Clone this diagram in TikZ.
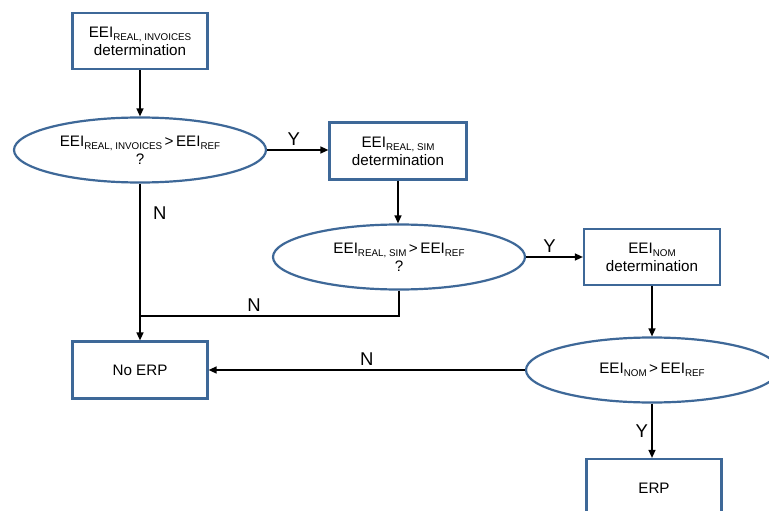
\documentclass[tikz,border=0pt]{standalone}
\usepackage{fontspec}
\setmainfont{Liberation Sans}
\usetikzlibrary{shapes.geometric,arrows.meta}
\definecolor{bord}{RGB}{62,104,152}
\newcommand{\lowtxt}[1]{\raisebox{-3.5pt}{\fontsize{9.8}{10}\selectfont #1}}
\begin{document}
\begin{tikzpicture}[x=1pt,y=-1pt,
 box/.style={draw=bord,line width=2.2pt,fill=white,minimum width=135pt,minimum height=56pt,inner sep=0pt,align=center,font=\fontsize{15.2}{18}\selectfont},
 dec/.style={ellipse,draw=bord,line width=2.2pt,fill=white,minimum width=252pt,minimum height=65pt,inner sep=0pt,align=center,font=\fontsize{15.2}{18}\selectfont},
 conn/.style={draw=black,line width=1.4pt},
 arr/.style={conn,-{Triangle[length=8pt,width=7pt]}},
 lbl/.style={font=\fontsize{18.5}{22}\selectfont}]
\useasboundingbox (0,0) rectangle (769,511);
\clip (0,0) rectangle (769,511);
\fill[white] (0,0) rectangle (769,511);
\node[box] (b1) at (140,41) {EEI\lowtxt{REAL, INVOICES}\\determination};
\node[dec] (e1) at (140,150) {EEI\lowtxt{REAL, INVOICES}\,>\,EEI\lowtxt{REF}\\?};
\node[box,minimum width=137pt,minimum height=57pt] (b2) at (398,151) {EEI\lowtxt{REAL, SIM}\\determination};
\node[dec] (e2) at (399,257) {EEI\lowtxt{REAL, SIM}\,>\,EEI\lowtxt{REF}\\?};
\node[box,minimum width=136pt] (b3) at (652,257) {EEI\lowtxt{NOM}\\determination};
\node[dec] (e3) at (652,370) {EEI\lowtxt{NOM}\,>\,EEI\lowtxt{REF}};
\node[box,minimum height=57pt] (noerp) at (140,370) {No ERP};
\node[box,minimum height=58pt] (erp) at (654,488) {ERP};
\draw[arr] (b1) -- (e1);
\draw[arr] (e1.east) -- node[lbl,above,xshift=-4pt]{Y} (e1.east -| b2.west);
\draw[arr] (b2.south) -- (b2.south |- e2.north);
\draw[arr] (e2.east) -- node[lbl,above,xshift=-5pt]{Y} (e2.east -| b3.west);
\draw[arr] (b3.south) -- (b3.south |- e3.north);
\draw[arr] (e3.south) -- node[lbl,left]{Y} (e3.south |- erp.north);
\draw[arr] (e1.south) -- node[lbl,right,pos=0.19,xshift=9pt]{N} (noerp.north);
\draw[conn] (e2.south) |- node[lbl,above,pos=0.78]{N} (noerp.north |- 0,316);
\draw[arr] (e3.west) -- node[lbl,above]{N} (noerp.east);
\end{tikzpicture}
\end{document}
